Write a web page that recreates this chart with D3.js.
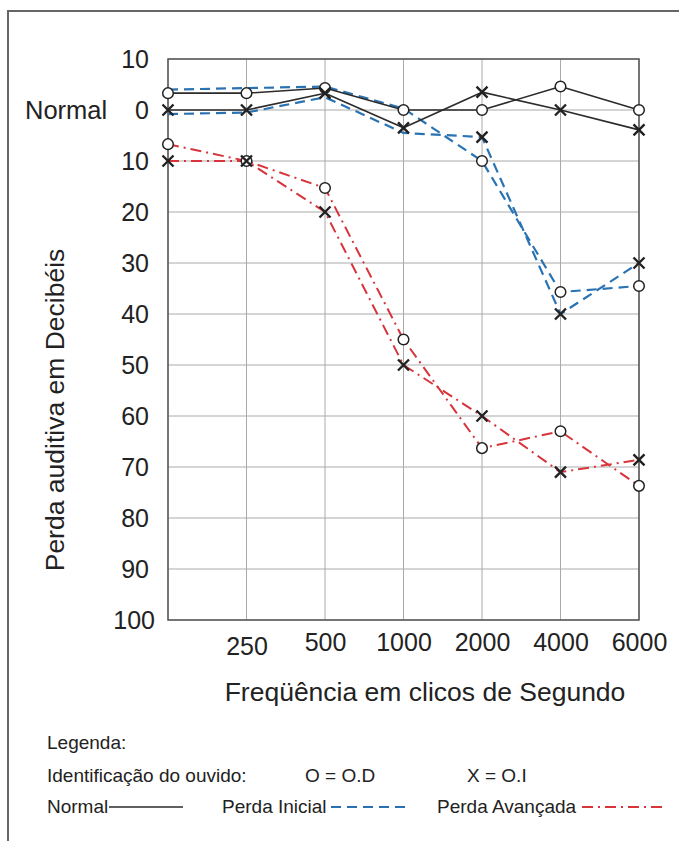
<!DOCTYPE html>
<html><head><meta charset="utf-8">
<script src="https://cdn.jsdelivr.net/npm/d3@7"></script>
<style>
html,body{margin:0;padding:0;background:#fff;}
svg{display:block;font-family:"Liberation Sans",Arial,sans-serif;}
</style></head>
<body>
<svg id="c" width="679" height="841"></svg>
<script>
// ---- data ----
const freqKeys = ["base","250","500","1000","2000","4000","6000"];
const freqLabels = ["","250","500","1000","2000","4000","6000"];
const dbTicks = [-10,0,10,20,30,40,50,60,70,80,90,100];
const dbTickLabels = ["10","0","10","20","30","40","50","60","70","80","90","100"];

const normalOD = [-3.3,-3.3,-4.3,0,0,-4.6,0];
const normalOI = [0,0,-3.3,3.5,-3.5,0,3.9];
const inicialOD = [-4,-4.3,-4.6,-0.3,10,35.7,34.5];
const inicialOI = [0.8,0.5,-2.5,4.5,5.3,40,30];
const avancadaOD = [6.7,10,15.3,45,66.3,63,73.7];
const avancadaOI = [10,10,20,50,60,71,68.6];

const series = [
  {name:"Perda Avançada OD", values:avancadaOD, ear:"O", type:"avancada", markFrom:0},
  {name:"Perda Avançada OI", values:avancadaOI, ear:"X", type:"avancada", markFrom:0},
  {name:"Perda Inicial OD", values:inicialOD, ear:"O", type:"inicial", markFrom:4},
  {name:"Perda Inicial OI", values:inicialOI, ear:"X", type:"inicial", markFrom:4},
  {name:"Normal OD", values:normalOD, ear:"O", type:"normal", markFrom:0},
  {name:"Normal OI", values:normalOI, ear:"X", type:"normal", markFrom:0}
];

const styles = {
  normal:{stroke:"#2b2b2b", width:1.6, dash:null},
  inicial:{stroke:"#2a73b2", width:2.2, dash:"10,6"},
  avancada:{stroke:"#d8343c", width:2, dash:"11,5,2,5"}
};

(function(){
const svg = d3.select("#c");
const pL=168, pR=639, pT=59, pB=620;
const x = d3.scalePoint().domain(freqKeys).range([pL,pR]);
const y = d3.scaleLinear().domain([-10,100]).range([pT,pB]);
const txt = "#222";

// outer frame
svg.append("path").attr("d","M8,841 V11 H679").attr("fill","none").attr("stroke","#666").attr("stroke-width",2);

// grid
const g = svg.append("g");
g.selectAll("line.h").data(dbTicks).join("line")
  .attr("x1",pL).attr("x2",pR).attr("y1",d=>y(d)).attr("y2",d=>y(d))
  .attr("stroke","#aaa").attr("stroke-width",1);
g.selectAll("line.v").data(freqKeys).join("line")
  .attr("x1",d=>x(d)).attr("x2",d=>x(d)).attr("y1",pT).attr("y2",pB)
  .attr("stroke","#aaa").attr("stroke-width",1);
g.append("rect").attr("x",pL).attr("y",pT).attr("width",pR-pL).attr("height",pB-pT)
  .attr("fill","none").attr("stroke","#555").attr("stroke-width",1.5);

// axes labels
const yAxis = d3.axisLeft(y).tickValues(dbTicks).tickFormat((d,i)=>dbTickLabels[i]).tickSize(0).tickPadding(19);
const ya = svg.append("g").attr("transform",`translate(${pL},0)`).call(yAxis);
ya.select(".domain").remove();
ya.selectAll("text").attr("font-size",25).attr("fill",txt).attr("font-family","Liberation Sans, Arial, sans-serif")
  .attr("dx",(d,i)=>i===dbTicks.length-1?6:0);

const xAxis = d3.axisBottom(x).tickFormat((d,i)=>freqLabels[i]).tickSize(0).tickPadding(13);
const xa = svg.append("g").attr("transform",`translate(0,${pB})`).call(xAxis);
xa.select(".domain").remove();
xa.selectAll("text").attr("font-size",25).attr("fill",txt).attr("font-family","Liberation Sans, Arial, sans-serif")
  .attr("dy",(d,i)=>i===1?"0.87em":"0.71em");

svg.append("text").attr("x",25).attr("y",y(0)).attr("dy","0.35em").attr("font-size",25.5).attr("fill",txt).text("Normal");

svg.append("text").attr("transform","translate(64,410) rotate(-90)").attr("text-anchor","middle")
  .attr("font-size",26.5).attr("fill",txt).text("Perda auditiva em Decibéis");
svg.append("text").attr("x",425).attr("y",701).attr("text-anchor","middle")
  .attr("font-size",26.5).attr("fill",txt).text("Freqüência em clicos de Segundo");

// lines
const line = d3.line().x((d,i)=>x(freqKeys[i])).y(d=>y(d));
series.forEach(s=>{
  const st = styles[s.type];
  svg.append("path").datum(s.values).attr("d",line).attr("fill","none")
    .attr("stroke",st.stroke).attr("stroke-width",st.width)
    .attr("stroke-dasharray",st.dash).attr("stroke-linejoin","round");
});
// markers
series.forEach(s=>{
  const pts = s.values.map((v,i)=>({v,i})).filter(p=>p.i>=s.markFrom);
  if(s.ear==="O"){
    svg.append("g").selectAll("circle").data(pts).join("circle")
      .attr("cx",p=>x(freqKeys[p.i])).attr("cy",p=>y(p.v)).attr("r",5.3)
      .attr("fill","#fff").attr("stroke","#222").attr("stroke-width",1.5);
  } else {
    const r=5.5;
    svg.append("g").selectAll("path").data(pts).join("path")
      .attr("d",p=>{const cx=x(freqKeys[p.i]), cy=y(p.v);
        return `M${cx-r},${cy-r}L${cx+r},${cy+r}M${cx+r},${cy-r}L${cx-r},${cy+r}`;})
      .attr("stroke","#222").attr("stroke-width",2.4).attr("fill","none");
  }
});

// legend
const lg = svg.append("g").attr("font-size",19).attr("fill",txt);
lg.append("text").attr("x",47).attr("y",749).text("Legenda:");
lg.append("text").attr("x",47).attr("y",782).text("Identificação do ouvido:");
lg.append("text").attr("x",305).attr("y",782).text("O = O.D");
lg.append("text").attr("x",467).attr("y",782).text("X = O.I");
lg.append("text").attr("x",47).attr("y",813).text("Normal");
lg.append("text").attr("x",222).attr("y",813).text("Perda Inicial");
lg.append("text").attr("x",437).attr("y",813).text("Perda Avançada");
const legLines = [
  {type:"normal", x1:109, x2:183},
  {type:"inicial", x1:331, x2:406},
  {type:"avancada", x1:582, x2:662}
];
legLines.forEach(l=>{
  const st = styles[l.type];
  svg.append("line").attr("x1",l.x1).attr("x2",l.x2).attr("y1",807).attr("y2",807)
    .attr("stroke",st.stroke).attr("stroke-width",st.width).attr("stroke-dasharray",st.dash);
});
})();
</script>
</body></html>
